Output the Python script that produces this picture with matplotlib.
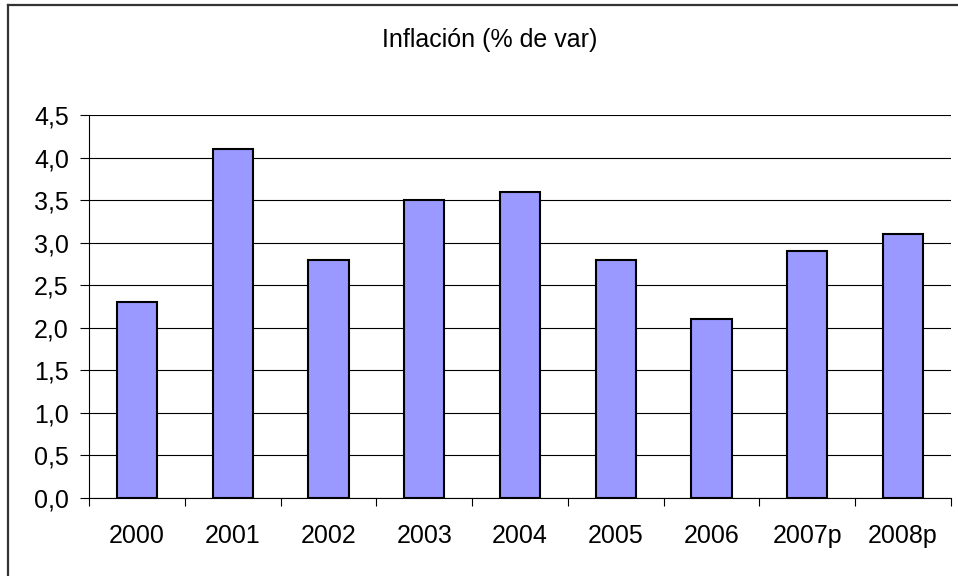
import matplotlib
matplotlib.use("Agg")
import matplotlib.pyplot as plt
from matplotlib.lines import Line2D
import numpy as np

categories = ["2000", "2001", "2002", "2003", "2004", "2005", "2006", "2007p", "2008p"]
values = [2.3, 4.1, 2.8, 3.5, 3.6, 2.8, 2.1, 2.9, 3.1]
yticks = [0.0, 0.5, 1.0, 1.5, 2.0, 2.5, 3.0, 3.5, 4.0, 4.5]
title = "Inflación (% de var)"

plt.rcParams['font.family'] = ['Liberation Sans', 'DejaVu Sans']
W, H = 958, 576
fig = plt.figure(figsize=(W / 100, H / 100), dpi=100)
ax = fig.add_axes([89 / W, 1 - 497.7 / H, (951 - 89) / W, (497.7 - 115) / H])

x = np.arange(len(categories))
ax.bar(x, values, width=0.42, color="#9999FF", edgecolor="black", linewidth=1.5, zorder=3)

ax.set_xlim(-0.5, len(categories) - 0.5)
ax.set_ylim(0, 4.5)
ax.set_yticks(yticks)
ax.set_yticklabels([f"{v:.1f}".replace(".", ",") for v in yticks], fontsize=18)
ax.yaxis.grid(True, color="black", linewidth=0.8, zorder=0)
ax.set_axisbelow(True)

ax.set_xticks(np.arange(len(categories) + 1) - 0.5)
ax.set_xticklabels([])
ax.set_xticks(x, minor=True)
ax.set_xticklabels(categories, minor=True, fontsize=18)
ax.tick_params(axis="x", which="major", length=6, width=0.8, direction="out")
ax.tick_params(axis="x", which="minor", length=0, pad=19)
ax.tick_params(axis="y", length=6.5, width=0.8, pad=8, direction="out")

for s in ["top", "right"]:
    ax.spines[s].set_visible(False)
for s in ["left", "bottom"]:
    ax.spines[s].set_linewidth(0.8)
    ax.spines[s].set_color("black")

fig.text(489.5 / W, 1 - 47 / H, title, ha="center", va="baseline", fontsize=18)

# chart border (left and top visible)
fig.add_artist(Line2D([8 / W, 8 / W], [0, 1 - 5 / H], transform=fig.transFigure, color="#333333", linewidth=1.6))
fig.add_artist(Line2D([8 / W, 1], [1 - 5 / H, 1 - 5 / H], transform=fig.transFigure, color="#333333", linewidth=1.6))

fig.savefig("out.png", dpi=100)
